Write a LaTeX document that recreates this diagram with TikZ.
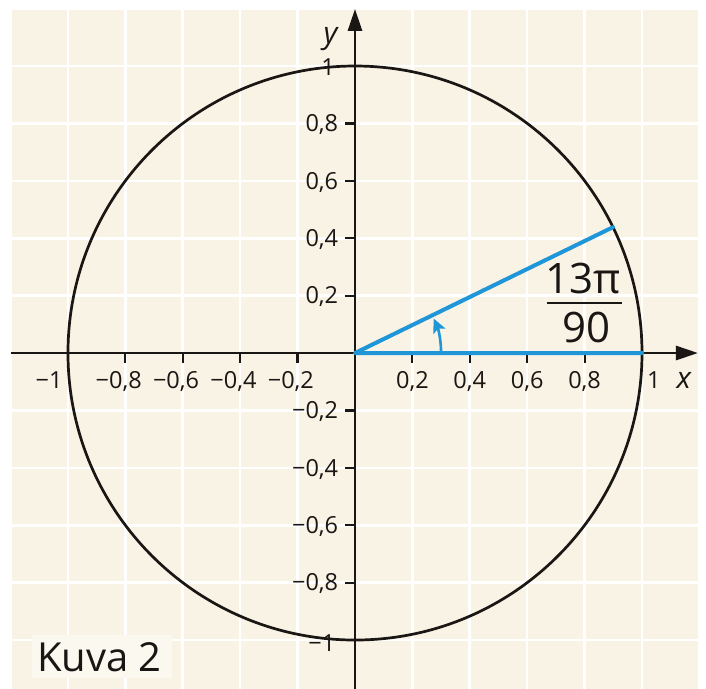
\documentclass[tikz,border=0pt]{standalone}
\usepackage{fontspec}
\setmainfont{Open Sans}
\usetikzlibrary{arrows.meta}
\definecolor{bgcream}{RGB}{248,243,229}
\definecolor{lineblue}{RGB}{30,150,215}
\definecolor{inkblack}{RGB}{25,22,20}
\begin{document}
\begin{tikzpicture}[x=287pt,y=287pt,
  axisline/.style={line width=2.7pt, inkblack},
  tickmark/.style={line width=2.2pt, inkblack},
  lbl/.style={font=\fontsize{23.5}{28}\selectfont, inner sep=0pt, text=inkblack},
  bigl/.style={font=\fontsize{42}{50}\selectfont, inner sep=0pt, text=inkblack},
  angline/.style={line width=4pt, lineblue, line cap=round, line join=round},
]
\useasboundingbox (-1.2369,-1.1672) rectangle (1.2230,1.2300);
% background paper with grid
\begin{scope}
  \clip (-1.2369,-1.1672) rectangle (1.2230,1.2300);
  \fill[bgcream] (-1.2,-1.2) rectangle (1.2,1.2);
  \draw[white, line width=2.6pt] (-1.2,-1.2) grid[step=0.2] (1.2,1.2);
\end{scope}
% caption box
\fill[bgcream!60!white] (-1.125,-1.132) rectangle (-0.638,-0.983);
\node[anchor=base west, inner sep=0pt, font=\fontsize{40}{48}\selectfont, text=inkblack] (kuva) at (-1.108,-1.111) {Kuva 2};
% unit circle
\draw[line width=2.7pt, inkblack] (0,0) circle[radius=1];
% axes
\coordinate (xs) at (-1.2,0);
\coordinate (xe) at (1.195,0);
\coordinate (ys) at (0,-1.2);
\coordinate (ye) at (0,1.199);
\draw[axisline, -{Triangle[length=22pt,width=14pt]}] (xs) -- (xe);
\draw[axisline, -{Triangle[length=22pt,width=14pt]}] (ys) -- (ye);
% ticks
\foreach \v in {-0.8,-0.6,-0.4,-0.2,0.2,0.4,0.6,0.8} {
  \draw[tickmark] (\v,0) -- (\v,-0.035);
  \draw[tickmark] (0,\v) -- (-0.035,\v);
}
% x labels
\node[lbl, anchor=base] (xl02) at (0.2,-0.122) {0,2};
\node[lbl, anchor=base] (xl04) at (0.4,-0.122) {0,4};
\node[lbl, anchor=base] (xl06) at (0.6,-0.122) {0,6};
\node[lbl, anchor=base] (xl08) at (0.8,-0.122) {0,8};
\node[lbl, anchor=base] (xlm08) at (-0.8,-0.122) {\llap{−}0,8};
\node[lbl, anchor=base] (xlm06) at (-0.6,-0.122) {\llap{−}0,6};
\node[lbl, anchor=base] (xlm04) at (-0.4,-0.122) {\llap{−}0,4};
\node[lbl, anchor=base] (xlm02) at (-0.2,-0.122) {\llap{−}0,2};
\node[lbl, anchor=base east] (xlm1) at (-1.018,-0.122) {−1};
\node[lbl, anchor=base west] (xl1) at (1.017,-0.122) {1};
\node[anchor=base, inner sep=0pt, font=\fontsize{30}{36}\selectfont\itshape, text=inkblack] (xname) at (1.146,-0.122) {x};
% y labels
\node[lbl, anchor=base east] (yl08) at (-0.058,0.771) {0,8};
\node[lbl, anchor=base east] (yl06) at (-0.058,0.571) {0,6};
\node[lbl, anchor=base east] (yl04) at (-0.058,0.371) {0,4};
\node[lbl, anchor=base east] (yl02) at (-0.058,0.171) {0,2};
\node[lbl, anchor=base east] (ylm02) at (-0.058,-0.229) {−0,2};
\node[lbl, anchor=base east] (ylm04) at (-0.058,-0.429) {−0,4};
\node[lbl, anchor=base east] (ylm06) at (-0.058,-0.629) {−0,6};
\node[lbl, anchor=base east] (ylm08) at (-0.058,-0.829) {−0,8};
\node[lbl, anchor=base east] (yl1) at (-0.07,0.966) {1};
\node[lbl, anchor=base east] (ylm1) at (-0.068,-1.041) {−1};
\node[anchor=base, inner sep=0pt, font=\fontsize{30}{36}\selectfont\itshape, text=inkblack] (yname) at (-0.085,1.08) {y};
% angle
\coordinate (O) at (0,0);
\coordinate (P) at (26:1);
\coordinate (E) at (1,0);
\draw[angline] (E) -- (O) -- (P);
\draw[lineblue, line width=2.6pt, -{Stealth[length=14pt,width=13pt,inset=3pt]}] (0.30,0) arc[start angle=0, end angle=24.5, radius=0.29];
% fraction label
\node[bigl, anchor=base] (num) at (0.794,0.209) {13π};
\node[bigl, anchor=base] (den) at (0.806,0.038) {90};
\draw[line width=2.8pt, inkblack] (0.669,0.174) -- (0.930,0.174);
\end{tikzpicture}
\end{document}
